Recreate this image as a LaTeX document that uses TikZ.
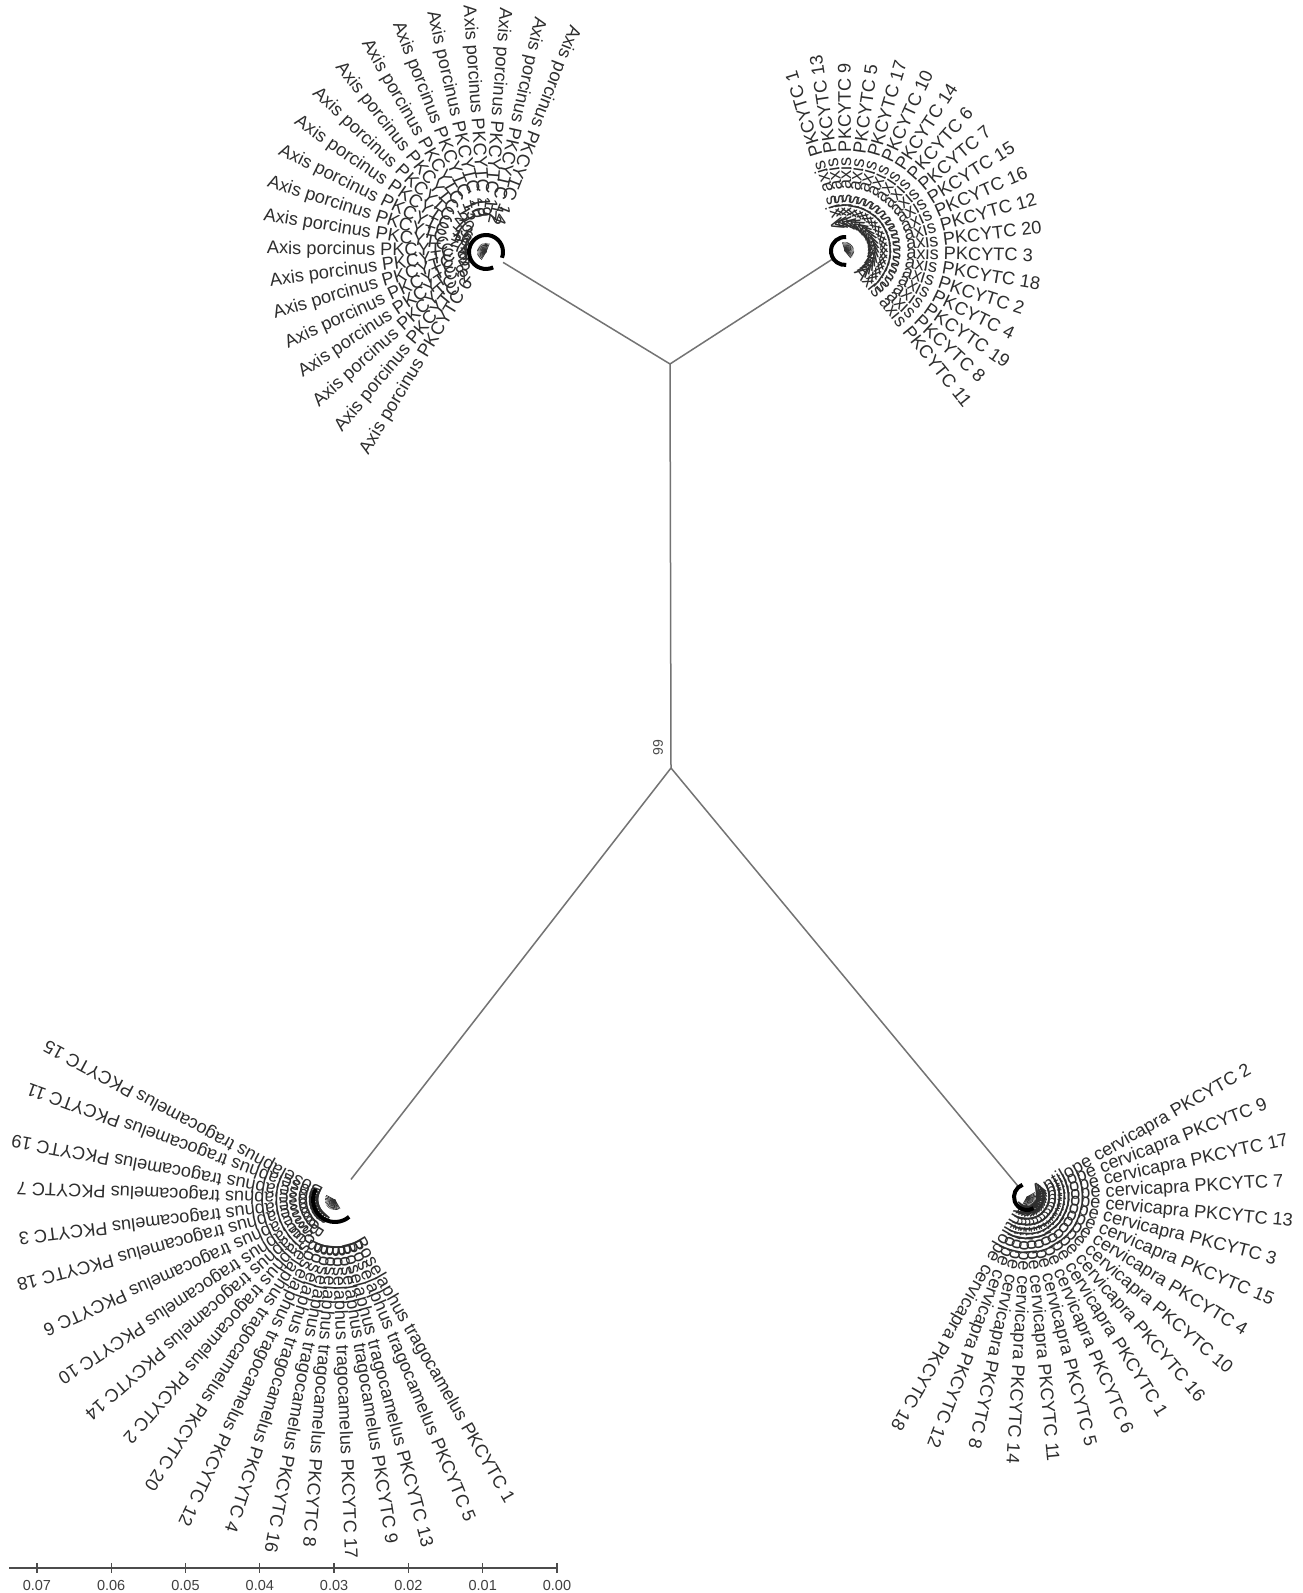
\documentclass[tikz,border=0pt]{standalone}
\usepackage{fontspec}
\setmainfont{Liberation Sans}
\usetikzlibrary{calc}
\begin{document}
\begin{tikzpicture}[x=1pt,y=1pt]
\tikzset{
 leaf/.style={inner sep=0pt, outer sep=0pt, font=\fontsize{18.2}{20}\selectfont, text=black!82},
 branch/.style={draw=black!55, line width=1.5pt},
 tipline/.style={draw=black!80, line width=0.7pt},
 ring/.style={draw=black, line width=4pt},
 scalebar/.style={draw=black!70, line width=1.8pt},
 scalelab/.style={font=\fontsize{14.5}{16}\selectfont, text=black!75, inner sep=0pt},
 bootlab/.style={font=\fontsize{14}{16}\selectfont, text=black!70, inner sep=0pt},
}
\useasboundingbox (0,0) rectangle (1302,1593);
\fill[white] (0,0) rectangle (1302,1593);
% cluster nodes and junctions
\coordinate (TL) at (486,1341);
\coordinate (TR) at (845,1342);
\coordinate (BL) at (335,393);
\coordinate (BR) at (1027,396);
\coordinate (J1) at (670,1229);
\coordinate (J2) at (671,825);
\coordinate (eTL) at ($(TL)!20pt!(J1)$);
\coordinate (eTR) at ($(TR)!14pt!(J1)$);
\coordinate (eBL) at ($(BL)!26pt!(J2)$);
\coordinate (eBR) at ($(BR)!14pt!(J2)$);
% branches
\draw[branch] (J1) -- (J2);
\draw[branch] (J1) -- (eTL);
\draw[branch] (J1) -- (eTR);
\draw[branch] (J2) -- (eBL);
\draw[branch] (J2) -- (eBR);
\node[bootlab, rotate=90] (boot) at (658,845) {99};

% ---- Axis porcinus (top left), labels flipped, placed by their outer ends
\foreach \n/\r [count=\i from 0] in {14/243,12/241,17/245,19/247,10/247,15/246,11/243,20/238,13/235,16/231,18/230,21/229,7/225,4/219,1/218,9/221,3/220,5/222,8/228,2/231,6/235} {
  \pgfmathsetmacro\a{68.6+\i*8.51}
  \pgfmathsetmacro\b{\a+180}
  \draw[tipline] (TL) -- ++(\a:9);
  \node[leaf, anchor=west, rotate=\b] (tl\n) at ([shift={(\a:\r)}]TL) {Axis porcinus PKCYTC \n};
}
\draw[ring] ([shift={(-20:17)}]TL) arc[start angle=-20, end angle=295, radius=17];

% ---- top right cluster
\foreach \n [count=\i from 0] in {1,13,9,5,17,10,14,6,7,15,16,12,20,3,18,2,4,19,8,11} {
  \pgfmathsetmacro\a{106.9-\i*8.32}
  \draw[tipline] (TR) -- ++(\a:9);
  \node[leaf, anchor=west, rotate=\a] (tr\n) at ([shift={(\a:22)}]TR) {Axis axis PKCYTC \n};
}
\draw[ring] ([shift={(85:14)}]TR) arc[start angle=85, end angle=275, radius=14];

% ---- Boselaphus tragocamelus (bottom left)
\foreach \a/\n/\r in {151.7/15/15,159.8/11/15,169.4/19/15,177.6/7/15,186.7/3/15,194.8/18/15,204.0/6/15,213.0/10/15,221.0/14/15,229.0/2/15,237.0/20/30,244.8/12/45,252.3/4/45,259.4/16/45,265.5/8/45,272.4/17/45,279.2/9/45,284.8/13/45,292.7/5/45,300.0/1/45} {
  \draw[tipline] (BL) -- ++(\a:10);
  \node[leaf, anchor=west, rotate=\a] (bl\n) at ([shift={(\a:\r)}]BL) {Boselaphus tragocamelus PKCYTC \n};
}
\draw[ring] ([shift={(150:22)}]BL) arc[start angle=150, end angle=310, radius=22];

% ---- Antilope cervicapra (bottom right)
\foreach \n [count=\i from 0] in {2,9,17,7,13,3,15,4,10,16,1,6,5,11,14,8,12,18} {
  \pgfmathsetmacro\a{29.8-\i*8.8}
  \draw[tipline] (BR) -- ++(\a:9);
  \node[leaf, anchor=west, rotate=\a] (br\n) at ([shift={(\a:8)}]BR) {Antilope cervicapra PKCYTC \n};
}
\draw[ring] ([shift={(110:13)}]BR) arc[start angle=110, end angle=300, radius=13];

% ---- scale bar
\coordinate (sb0) at (9,25);
\coordinate (sb1) at (557,25);
\draw[scalebar] (sb0) -- (sb1);
\foreach \k/\t in {0/0.00,1/0.01,2/0.02,3/0.03,4/0.04,5/0.05,6/0.06,7/0.07} {
  \pgfmathsetmacro\x{557-\k*74.3}
  \draw[scalebar, line width=1.3pt] (\x,20) -- (\x,30);
  \node[scalelab] (s\k) at (\x,7) {\t};
}
\end{tikzpicture}
\end{document}
